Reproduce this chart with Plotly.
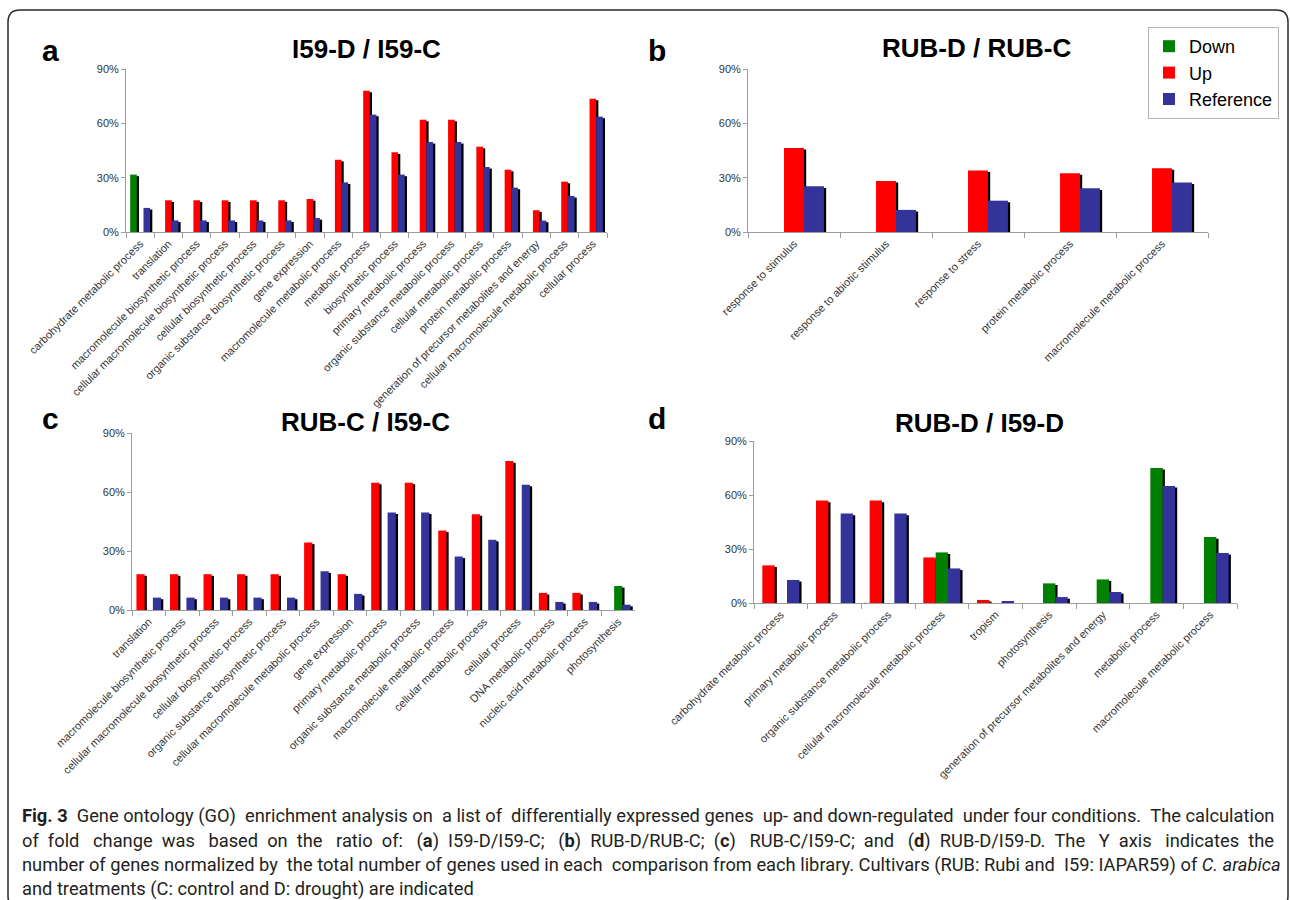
import plotly.graph_objects as go

# ---------------------------------------------------------------- data (%)
a_labels = [
    "carbohydrate metabolic process", "translation",
    "macromolecule biosynthetic process",
    "cellular macromolecule biosynthetic process",
    "cellular biosynthetic process", "organic substance biosynthetic process",
    "gene expression", "macromolecule metabolic process", "metabolic process",
    "biosynthetic process", "primary metabolic process",
    "organic substance metabolic process", "cellular metabolic process",
    "protein metabolic process",
    "generation of precursor metabolites and energy",
    "cellular macromolecule metabolic process", "cellular process",
]
a_down = [31.7, None, None, None, None, None, None, None, None, None, None,
          None, None, None, None, None, None]
a_up = [None, 17.5, 17.5, 17.5, 17.5, 17.5, 18.2, 39.9, 78.0, 44.0, 62.0,
        62.0, 47.1, 34.4, 12.0, 27.8, 73.6]
a_ref = [13.3, 6.4, 6.4, 6.4, 6.4, 6.4, 7.7, 27.4, 64.8, 31.7, 49.7,
         49.7, 35.9, 24.5, 6.3, 19.9, 63.7]

b_labels = [
    "response to stimulus", "response to abiotic stimulus",
    "response to stress", "protein metabolic process",
    "macromolecule metabolic process",
]
b_down = [None, None, None, None, None]
b_up = [46.4, 28.2, 34.0, 32.5, 35.2]
b_ref = [25.2, 12.2, 17.3, 24.1, 27.4]

c_labels = [
    "translation", "macromolecule biosynthetic process",
    "cellular macromolecule biosynthetic process",
    "cellular biosynthetic process", "organic substance biosynthetic process",
    "cellular macromolecule metabolic process", "gene expression",
    "primary metabolic process", "organic substance metabolic process",
    "macromolecule metabolic process", "cellular metabolic process",
    "cellular process", "DNA metabolic process",
    "nucleic acid metabolic process", "photosynthesis",
]
c_up = [18.2, 18.2, 18.2, 18.2, 18.2, 34.3, 18.2, 64.7, 64.7, 40.4, 48.7,
        75.7, 8.7, 8.7, None]
c_down = [None, None, None, None, None, None, None, None, None, None, None,
          None, None, None, 12.2]
c_ref = [6.3, 6.3, 6.3, 6.3, 6.3, 19.7, 8.2, 49.6, 49.6, 27.2, 35.7,
         63.7, 4.1, 4.1, 2.7]

d_labels = [
    "carbohydrate metabolic process", "primary metabolic process",
    "organic substance metabolic process",
    "cellular macromolecule metabolic process", "tropism", "photosynthesis",
    "generation of precursor metabolites and energy", "metabolic process",
    "macromolecule metabolic process",
]
d_up = [20.9, 56.9, 56.9, 25.3, 1.7, None, None, None, None]
d_down = [None, None, None, 28.1, None, 10.9, 13.1, 75.0, 36.6]
d_ref = [12.8, 49.7, 49.7, 19.2, 0.7, 3.3, 6.1, 65.0, 27.8]

y_ticks = [0, 30, 60, 90]
y_ticktext = ["0%", "30%", "60%", "90%"]

# ---------------------------------------------------------------- styling
W, H = 1290, 900
COLORS = {"Down": "#008000", "Up": "#ff0000", "Reference": "#333399"}
AXIS_GREY = "#9c9c9c"
FONT = "Liberation Sans, Arial, sans-serif"

panels = [
    dict(letter="a", title="I59-D / I59-C", labels=a_labels,
         series={"Down": a_down, "Up": a_up, "Reference": a_ref},
         order=["Down", "Up", "Reference"], box=(126, 607, 69, 232),
         barw=0.235, title_xy=(366, 49), letter_xy=(50, 50)),
    dict(letter="b", title="RUB-D / RUB-C", labels=b_labels,
         series={"Down": b_down, "Up": b_up, "Reference": b_ref},
         order=["Down", "Up", "Reference"], box=(748, 1208, 69, 232),
         barw=0.217, title_xy=(976, 48), letter_xy=(657, 50)),
    dict(letter="c", title="RUB-C / I59-C", labels=c_labels,
         series={"Up": c_up, "Down": c_down, "Reference": c_ref},
         order=["Up", "Down", "Reference"], box=(132, 635, 433, 610),
         barw=0.245, title_xy=(365, 422), letter_xy=(50, 419)),
    dict(letter="d", title="RUB-D / I59-D", labels=d_labels,
         series={"Up": d_up, "Down": d_down, "Reference": d_ref},
         order=["Up", "Down", "Reference"], box=(754, 1237, 441, 603),
         barw=0.23, title_xy=(979, 423), letter_xy=(657, 418)),
]

fig = go.Figure()
annotations = []
layout_axes = {}

for i, p in enumerate(panels):
    n = len(p["labels"])
    x0, x1, y0, y1 = p["box"]
    cat_px = (x1 - x0) / n
    plot_h = y1 - y0
    bw = p["barw"]
    # drop shadow: a couple of pixels right and down, converted to axis units
    dx = 2.2 / cat_px
    dy = 1.6 * 90 / plot_h
    xa = "x" if i == 0 else f"x{i + 1}"
    ya = "y" if i == 0 else f"y{i + 1}"

    for k, name in enumerate(p["order"]):
        vals = p["series"][name]
        off = -1.5 * bw + k * bw
        fig.add_trace(go.Bar(
            x=p["labels"], y=vals, base=-dy, offset=off + dx, width=bw,
            marker=dict(color="#000000", line=dict(width=0)),
            showlegend=False, hoverinfo="skip", xaxis=xa, yaxis=ya,
        ))
    for k, name in enumerate(p["order"]):
        vals = p["series"][name]
        off = -1.5 * bw + k * bw
        fig.add_trace(go.Bar(
            x=p["labels"], y=vals, offset=off, width=bw, name=name,
            marker=dict(color=COLORS[name], line=dict(width=0)),
            showlegend=(i == 0), legendgroup=name, xaxis=xa, yaxis=ya,
        ))

    key = "" if i == 0 else str(i + 1)
    layout_axes[f"xaxis{key}"] = dict(
        domain=[x0 / W, x1 / W], anchor=ya, type="category",
        range=[-0.5, n - 0.5], showline=True, linecolor=AXIS_GREY,
        linewidth=1, ticks="outside", tickson="boundaries", ticklen=5,
        tickcolor=AXIS_GREY, tickangle=-45, showgrid=False, automargin=False,
        tickfont=dict(family=FONT, size=11, color="#333333"),
    )
    layout_axes[f"yaxis{key}"] = dict(
        domain=[1 - y1 / H, 1 - y0 / H], anchor=xa, range=[0, 90],
        tickmode="array", tickvals=y_ticks, ticktext=y_ticktext,
        showline=True, linecolor=AXIS_GREY,
        linewidth=1, ticks="outside", ticklen=4, tickcolor=AXIS_GREY,
        showgrid=False, zeroline=False, automargin=False,
        tickfont=dict(family=FONT, size=11, color="#333333"),
    )

    tx, ty = p["title_xy"]
    annotations.append(dict(
        text=f"<b>{p['title']}</b>", x=tx / W, y=1 - ty / H, xref="paper",
        yref="paper", xanchor="center", yanchor="middle", showarrow=False,
        font=dict(family=FONT, size=26, color="#000000"),
    ))
    lx, ly = p["letter_xy"]
    annotations.append(dict(
        text=f"<b>{p['letter']}</b>", x=lx / W, y=1 - ly / H, xref="paper",
        yref="paper", xanchor="center", yanchor="middle", showarrow=False,
        font=dict(family=FONT, size=30, color="#000000"),
    ))

# ---------------------------------------------------------------- caption
caption_lines = [
    "<b>Fig. 3</b> Gene ontology (GO) enrichment analysis on a list of "
    "differentially expressed genes up- and down-regulated under four "
    "conditions. The calculation",
    "of fold change was based on the ratio of: (<b>a</b>) I59-D/I59-C; "
    "(<b>b</b>) RUB-D/RUB-C; (<b>c</b>) RUB-C/I59-C; and (<b>d</b>) "
    "RUB-D/I59-D. The Y axis indicates the",
    "number of genes normalized by the total number of genes used in each "
    "comparison from each library. Cultivars (RUB: Rubi and I59: IAPAR59) "
    "of <i>C. arabica</i>",
    "and treatments (C: control and D: drought) are indicated",
]
# extra non-breaking spaces spread over the word gaps (justified block)
caption_extra = [7, 31, 3, 0]
caption_y = [816, 841, 865, 889]


def justify(text, extra):
    words = text.split(" ")
    gaps = len(words) - 1
    if extra <= 0 or gaps <= 0:
        return text
    out = words[0]
    given = 0
    for g in range(gaps):
        target = round((g + 1) * extra / gaps)
        add = target - given
        given = target
        out += " " + "\u00a0" * add + words[g + 1]
    return out


for line, extra, yc in zip(caption_lines, caption_extra, caption_y):
    annotations.append(dict(
        text=justify(line, extra), x=20 / W, y=1 - yc / H, xref="paper",
        yref="paper", xanchor="left", yanchor="middle", showarrow=False,
        font=dict(family="Roboto, sans-serif", size=18.3, color="#231f20"),
    ))

# ---------------------------------------------------------------- frame
def rounded_rect(x0, y0, x1, y1, r):
    px = lambda v: v / W
    py = lambda v: 1 - v / H
    return (
        f"M {px(x0 + r)},{py(y0)} L {px(x1 - r)},{py(y0)} "
        f"Q {px(x1)},{py(y0)} {px(x1)},{py(y0 + r)} "
        f"L {px(x1)},{py(y1 - r)} Q {px(x1)},{py(y1)} {px(x1 - r)},{py(y1)} "
        f"L {px(x0 + r)},{py(y1)} Q {px(x0)},{py(y1)} {px(x0)},{py(y1 - r)} "
        f"L {px(x0)},{py(y0 + r)} Q {px(x0)},{py(y0)} {px(x0 + r)},{py(y0)} Z"
    )

frame = dict(type="path", xref="paper", yref="paper",
             path=rounded_rect(8, 10, 1288, 908, 12),
             line=dict(color="#2a2a2a", width=1.5), layer="above")

fig.update_layout(
    width=W, height=H, margin=dict(l=0, r=0, t=0, b=0),
    paper_bgcolor="white", plot_bgcolor="white", barmode="overlay",
    font=dict(family=FONT, color="#000000"),
    legend=dict(x=1148 / W, y=1 - 27 / H, xanchor="left", yanchor="top",
                bgcolor="white", bordercolor="#b4b4b4", borderwidth=1,
                font=dict(family=FONT, size=18, color="#000000"),
                itemwidth=30, tracegroupgap=0, traceorder="normal"),
    annotations=annotations, shapes=[frame], **layout_axes,
)

fig.write_html("out.html")
